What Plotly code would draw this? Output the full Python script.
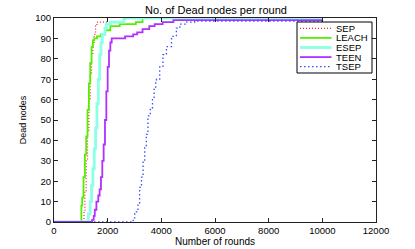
import plotly.graph_objects as go

# ---- data ----
sep_rounds = [0, 1100, 1120, 1150, 1200, 1250, 1300, 1350, 1400, 1450, 1500, 1550, 1600, 2400, 2650, 10000]
sep_dead = [0, 0, 5, 15, 30, 45, 60, 72, 82, 88, 92, 96, 98, 98, 100, 100]

leach_rounds = [0, 1000, 1020, 1050, 1100, 1150, 1200, 1250, 1300, 1350, 1400, 1450, 1500, 1600, 1750, 1900, 2100, 2450, 3050, 3300, 10000]
leach_dead = [0, 0, 8, 12, 22, 33, 42, 55, 68, 78, 86, 89, 90, 91, 92, 94, 96, 97, 98, 100, 100]

esep_rounds = [0, 1230, 1280, 1350, 1400, 1450, 1500, 1550, 1600, 1650, 1700, 1750, 1800, 1900, 1950, 2100, 2600, 10000]
esep_dead = [0, 0, 4, 10, 18, 26, 36, 46, 58, 70, 82, 88, 92, 95, 97, 98, 100, 100]

teen_rounds = [0, 1400, 1420, 1480, 1520, 1580, 1650, 1700, 1750, 1800, 1850, 1900, 1950, 2000, 2050, 2100, 2150, 2500, 2650, 2950, 3100, 3300, 3550, 3750, 4050, 4450, 10000]
teen_dead = [0, 0, 1, 3, 6, 10, 13, 16, 22, 30, 38, 50, 64, 76, 84, 88, 90, 90, 91, 92, 93, 94.5, 96, 97, 98, 99, 99]

tsep_rounds = [0, 2880, 2950, 3010, 3130, 3190, 3260, 3320, 3380, 3440, 3500, 3590, 3670, 3730, 3790, 3820, 3940, 4060, 4190, 4380, 4560, 4690, 4940, 5240, 10000]
tsep_dead = [0, 0, 2, 5, 9, 17, 22, 30, 37, 43, 52, 56, 60, 65, 69, 70, 76, 82, 86, 91, 95, 97, 98, 98.5, 99]

x_ticks = [0, 2000, 4000, 6000, 8000, 10000, 12000]
y_ticks = [0, 10, 20, 30, 40, 50, 60, 70, 80, 90, 100]

series_names = ["SEP", "LEACH", "ESEP", "TEEN", "TSEP"]
series_x = [sep_rounds, leach_rounds, esep_rounds, teen_rounds, tsep_rounds]
series_y = [sep_dead, leach_dead, esep_dead, teen_dead, tsep_dead]
series_line = [
    dict(color="#ff2020", width=1.2, dash="1px,2px"),
    dict(color="#55ee00", width=1.8),
    dict(color="#8cffe6", width=2.8),
    dict(color="#b030ff", width=1.8),
    dict(color="#3a4cff", width=1.3, dash="1.5px,2.5px"),
]

W, H = 415, 249
L, R, T, B = 54, 39, 18, 27
PW, PH = W - L - R, H - T - B

fig = go.Figure()
for name, xs, ys, line in zip(series_names, series_x, series_y, series_line):
    fig.add_trace(go.Scatter(x=xs, y=ys, name=name, mode="lines",
                             line=dict(shape="hv", **line), showlegend=False))

# custom compact legend (MATLAB-style)
def px_x(p):
    return (p - L) / PW

def px_y(p):
    return (H - B - p) / PH

fig.add_shape(type="rect", xref="paper", yref="paper",
              x0=px_x(297), x1=px_x(372), y0=px_y(73), y1=px_y(22),
              line=dict(color="#000", width=1), fillcolor="white", layer="above")
row_y = [28.3 + 9.6 * i for i in range(len(series_names))]
for name, line, ry in zip(series_names, series_line, row_y):
    fig.add_shape(type="line", xref="paper", yref="paper",
                  x0=px_x(300), x1=px_x(331.5), y0=px_y(ry), y1=px_y(ry),
                  line=line, layer="above")
    fig.add_annotation(xref="paper", yref="paper", x=px_x(335), y=px_y(ry),
                       text=name, showarrow=False, xanchor="left", yanchor="middle",
                       borderpad=0, font=dict(size=9.5, color="#000"))

font = dict(family="Liberation Sans, Arial, sans-serif", size=9, color="#000000")

fig.update_layout(
    width=W, height=H,
    margin=dict(l=L, r=R, t=T, b=B, pad=0, autoexpand=False),
    paper_bgcolor="white", plot_bgcolor="white",
    font=font,
    showlegend=False,
    title=dict(text="No. of Dead nodes per round", x=216 / W,
               xanchor="center", y=1 - 10 / H, yanchor="middle", font=dict(size=11)),
    xaxis=dict(range=[0, 12000], tickvals=x_ticks, ticktext=[str(v) for v in x_ticks],
               ticks="inside", ticklen=4, tickcolor="#222", automargin=False,
               showline=True, linecolor="#222", linewidth=1, mirror="ticks",
               showgrid=False, zeroline=False, tickfont=dict(size=9.5),
               title=dict(text="Number of rounds", standoff=2, font=dict(size=10))),
    yaxis=dict(range=[0, 100], tickvals=y_ticks, ticktext=[str(v) for v in y_ticks],
               ticks="inside", ticklen=4, tickcolor="#222", automargin=False,
               showline=True, linecolor="#222", linewidth=1, mirror="ticks",
               showgrid=False, zeroline=False, tickfont=dict(size=9.5),
               title=dict(text="Dead nodes", standoff=7, font=dict(size=9))),
)

fig.write_html("out.html", config={"displayModeBar": False},
               post_script="document.body.style.margin='0px';document.body.style.overflow='hidden';")
